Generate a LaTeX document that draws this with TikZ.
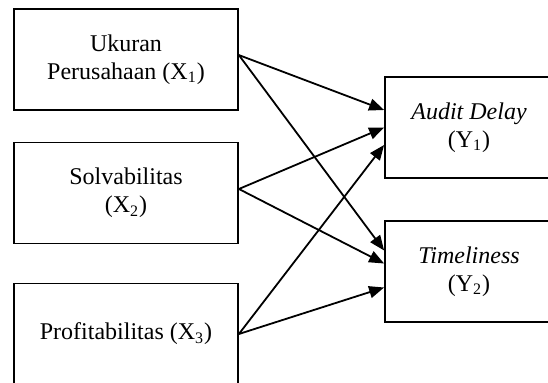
\documentclass[tikz,border=0pt]{standalone}
\usepackage{fontspec}
\setmainfont{Liberation Serif}
\usetikzlibrary{arrows.meta}

\begin{document}
\begin{tikzpicture}[x=0.5pt, y=-0.5pt, line width=0.9pt,
    var/.style={draw, align=center, inner sep=0pt, font=\fontsize{12}{13.8}\selectfont},
    xbox/.style={var, minimum width=112pt, minimum height=50.5pt},
    ybox/.style={var, minimum width=84pt, minimum height=50.5pt},
    path/.style={-{Triangle[length=7.5pt, width=6pt]}}]
  \useasboundingbox (0,0) rectangle (548,383);
  \clip (0,0) rectangle (548,383);

  \node [xbox] (x1) at (126, 59.5) {Ukuran\\Perusahaan (X\textsubscript{1})};
  \node [xbox] (x2) at (126, 193) {Solvabilitas\\(X\textsubscript{2})};
  \node [xbox] (x3) at (126, 334) {Profitabilitas (X\textsubscript{3})};

  \node [ybox] (y1) at (469, 127.5) {\textit{Audit Delay}\\(Y\textsubscript{1})};
  \node [ybox] (y2) at (469, 271.5) {\textit{Timeliness}\\(Y\textsubscript{2})};

  \draw [path] ([yshift=2.2pt]x1.east) -- ([yshift=8.75pt]y1.west);
  \draw [path] ([yshift=2.2pt]x1.east) -- ([yshift=10.5pt]y2.west);
  \draw [path] ([yshift=2pt]x2.east) -- (y1.west);
  \draw [path] ([yshift=2pt]x2.east) -- ([yshift=4pt]y2.west);
  \draw [path] (x3.east) -- ([yshift=-8.75pt]y1.west);
  \draw [path] (x3.east) -- ([yshift=-8pt]y2.west);

\end{tikzpicture}
\end{document}
